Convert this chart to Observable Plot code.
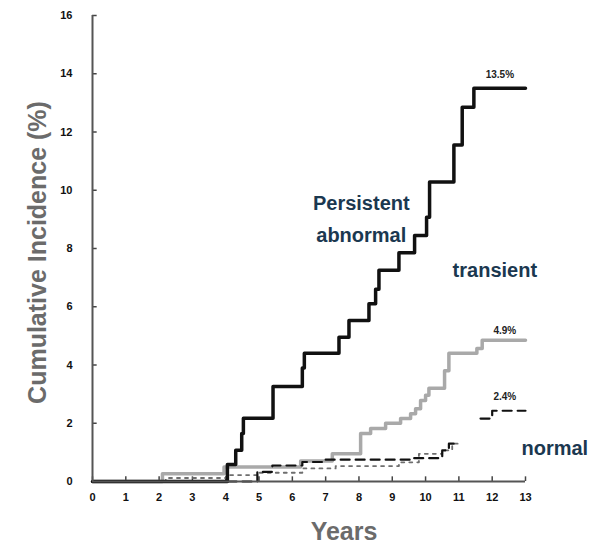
<!DOCTYPE html>
<html>
<head>
<meta charset="utf-8">
<script src="https://cdn.jsdelivr.net/npm/d3@7"></script>
<script src="https://cdn.jsdelivr.net/npm/@observablehq/plot@0.6"></script>
<style>
  html, body { margin: 0; padding: 0; background: #fff; }
  #chart { width: 612px; height: 553px; }
</style>
</head>
<body>
<div id="chart"></div>
<script>
// ---- data ----
const xTicks = [0,1,2,3,4,5,6,7,8,9,10,11,12,13];
const yTicks = [0,2,4,6,8,10,12,14,16];

const persistentYears  = [0, 4.05, 4.3, 4.48, 4.53, 5.42, 6.3, 6.36, 7.4, 7.7, 8.3, 8.5, 8.6, 9.2, 9.67, 10.03, 10.12, 10.85, 11.1, 11.45, 13.0];
const persistentValues = [0, 0.58, 1.07, 1.65, 2.17, 3.26, 3.9, 4.4, 4.95, 5.53, 6.1, 6.6, 7.25, 7.85, 8.45, 9.07, 10.28, 11.55, 12.85, 13.5, 13.5];

const transientYears  = [0, 2.1, 3.95, 6.25, 7.2, 8.05, 8.35, 8.8, 9.25, 9.55, 9.7, 9.85, 10.0, 10.1, 10.57, 10.7, 11.54, 11.7, 13.0];
const transientValues = [0, 0.27, 0.5, 0.7, 0.95, 1.65, 1.82, 2.0, 2.16, 2.33, 2.5, 2.78, 2.96, 3.2, 3.8, 4.4, 4.57, 4.85, 4.85];

const normalYears  = [0, 4.95, 5.4, 6.3, 7.0, 9.6, 10.5, 10.7, 11.0, 11.1, 11.65, 12.0, 13.0];
const normalValues = [0, 0.33, 0.55, 0.67, 0.75, 0.8, 1.07, 1.3, 1.3, null, 2.16, 2.43, 2.43];

const dottedYears  = [0, 2.2, 4.1, 5.0, 6.3, 7.3, 9.2, 9.8, 10.5, 10.8, 11.0];
const dottedValues = [0, 0.12, 0.22, 0.3, 0.45, 0.53, 0.66, 0.95, 1.07, 1.3, 1.3];

const groupLabelText = ["Persistent", "abnormal", "transient", "normal"];
const groupLabelX    = [8.07, 8.07, 12.08, 13.88];
const groupLabelY    = [9.55, 8.45, 7.25, 1.12];

const endLabelText = ["13.5%", "4.9%", "2.4%"];
const endLabelX    = [12.23, 12.38, 12.38];
const endLabelY    = [13.95, 5.19, 2.9];

const xTitle = "Years";
const yTitle = "Cumulative Incidence (%)";

// ---- tables ----
const toRows = (xs, ys) => xs.map((x, i) => ({x, y: ys[i]}));
const persistent = toRows(persistentYears, persistentValues);
const transient  = toRows(transientYears, transientValues);
const normal     = toRows(normalYears, normalValues);
const dotted     = toRows(dottedYears, dottedValues);
const groupLabels = groupLabelText.map((t, i) => ({t, x: groupLabelX[i], y: groupLabelY[i]}));
const endLabels   = endLabelText.map((t, i) => ({t, x: endLabelX[i], y: endLabelY[i]}));

const chart = Plot.plot({
  width: 612,
  height: 553,
  marginLeft: 92,
  marginRight: 87,
  marginTop: 15,
  marginBottom: 72,
  x: {domain: [0, 13]},
  y: {domain: [0, 16]},
  style: {fontFamily: "'Liberation Sans', Arial, sans-serif", background: "#fff", overflow: "visible"},
  marks: [
    // axis tick labels
    Plot.axisX({ticks: xTicks, tickSize: 0, tickPadding: 12, fontSize: 11, fontWeight: "bold", fill: "#111", label: null}),
    Plot.axisY({ticks: yTicks, tickSize: 0, tickPadding: 20, fontSize: 11, fontWeight: "bold", fill: "#111", label: null}),
    // inward tick marks
    Plot.ruleX(xTicks, {x: d => d, y1: 0, y2: 0.16, stroke: "#444", strokeWidth: 1.5}),
    Plot.ruleY(yTicks, {y: d => d, x1: 0, x2: 0.14, stroke: "#444", strokeWidth: 1.5}),
    // curves
    Plot.line(dotted, {x: "x", y: "y", curve: "step-after", stroke: "#6e6e6e", strokeWidth: 1.8, strokeDasharray: "3,5"}),
    Plot.line(transient, {x: "x", y: "y", curve: "step-after", stroke: "#a9a9a9", strokeWidth: 3.5}),
    Plot.line(normal, {x: "x", y: "y", curve: "step-after", stroke: "#111", strokeWidth: 2.2, strokeDasharray: "9,6"}),
    Plot.line(persistent, {x: "x", y: "y", curve: "step-after", stroke: "#111", strokeWidth: 3.5}),
    // axis lines
    Plot.ruleX([0], {stroke: "#555", strokeWidth: 2}),
    Plot.ruleY([0], {stroke: "#555", strokeWidth: 2}),
    // annotations
    Plot.text(groupLabels, {x: "x", y: "y", text: "t", fill: "#1b3850", fontSize: 20, fontWeight: "bold", textAnchor: "middle"}),
    Plot.text(endLabels, {x: "x", y: "y", text: "t", fill: "#222", fontSize: 10, fontWeight: "bold", textAnchor: "middle"}),
    // axis titles
    Plot.text([xTitle], {frameAnchor: "bottom", dx: 35, dy: 58, text: d => d, fill: "#6b6b6b", fontSize: 25, fontWeight: "bold", textAnchor: "middle"}),
    Plot.text([yTitle], {frameAnchor: "left", dx: -55, dy: 4, rotate: -90, text: d => d, fill: "#6b6b6b", fontSize: 25, fontWeight: "bold", textAnchor: "middle"})
  ]
});
document.getElementById("chart").appendChild(chart);
</script>
</body>
</html>
